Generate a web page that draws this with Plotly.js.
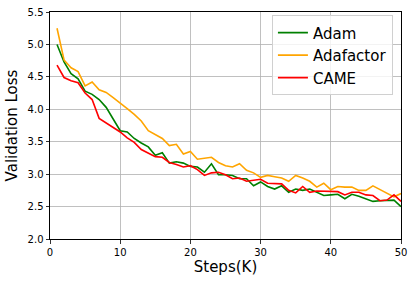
<!DOCTYPE html>
<html>
<head>
<meta charset="utf-8">
<script src="https://cdn.plot.ly/plotly-3.0.1.min.js"></script>
<style>html,body{margin:0;padding:0;background:#fff;}#chart{width:415px;height:283px;}</style>
</head>
<body>
<div id="chart"></div>
<script>
const steps = [1,2,3,4,5,6,7,8,9,10,11,12,13,14,15,16,17,18,19,20,21,22,23,24,25,26,27,28,29,30,31,32,33,34,35,36,37,38,39,40,41,42,43,44,45,46,47,48,49,50];
const adam = [5.00,4.73,4.55,4.47,4.28,4.23,4.15,4.03,3.85,3.67,3.65,3.55,3.48,3.42,3.29,3.33,3.17,3.19,3.17,3.12,3.11,3.03,3.16,2.99,2.99,2.98,2.93,2.93,2.82,2.88,2.81,2.77,2.82,2.72,2.77,2.75,2.77,2.72,2.67,2.68,2.69,2.62,2.69,2.66,2.62,2.58,2.59,2.60,2.60,2.50];
const adafactor = [5.25,4.76,4.64,4.58,4.36,4.42,4.30,4.26,4.18,4.10,4.01,3.92,3.82,3.67,3.61,3.55,3.44,3.46,3.31,3.35,3.23,3.24,3.26,3.18,3.13,3.11,3.16,3.06,3.02,2.95,2.98,2.96,2.94,2.89,2.98,2.94,2.89,2.80,2.86,2.76,2.81,2.80,2.80,2.75,2.75,2.82,2.76,2.70,2.65,2.70];
const came = [4.68,4.49,4.44,4.41,4.25,4.15,3.86,3.79,3.72,3.65,3.56,3.49,3.38,3.32,3.27,3.26,3.18,3.15,3.11,3.13,3.07,2.98,3.02,3.03,2.99,2.93,2.94,2.89,2.91,2.92,2.86,2.85,2.85,2.75,2.71,2.81,2.72,2.74,2.74,2.73,2.73,2.68,2.72,2.72,2.68,2.67,2.59,2.60,2.68,2.58];
const seriesNames = ['Adam','Adafactor','CAME'];
const seriesColors = ['#008000','#FFA500','#FF0000'];
const xTicks = [0,10,20,30,40,50];
const yTicks = [2.0,2.5,3.0,3.5,4.0,4.5,5.0,5.5];

const values = [adam, adafactor, came];
const traces = values.map((v,i)=>({
  x: steps, y: v, type:'scatter', mode:'lines', name: seriesNames[i],
  line:{color: seriesColors[i], width:1.6}
}));

const axisCommon = {
  showline:true, linecolor:'#000', linewidth:1, mirror:true,
  ticks:'outside', ticklen:3.5, tickwidth:0.8, tickcolor:'#000',
  showgrid:true, gridcolor:'#b0b0b0', gridwidth:0.8, zeroline:false,
  tickfont:{family:'DejaVu Sans', size:10, color:'#000'}
};

const layout = {
  width:415, height:283,
  margin:{l:50, r:14, t:12, b:44},
  paper_bgcolor:'#fff', plot_bgcolor:'#fff',
  font:{family:'DejaVu Sans', color:'#000'},
  xaxis: Object.assign({}, axisCommon, {
    range:[0,50], tickvals:xTicks, ticktext:xTicks.map(String),
    title:{text:'Steps(K)', font:{size:15, color:'#000'}, standoff:3}
  }),
  yaxis: Object.assign({}, axisCommon, {
    range:[2.0,5.5], tickvals:yTicks, ticktext:yTicks.map(v=>v.toFixed(1)),
    title:{text:'Validation Loss', font:{size:15, color:'#000'}, standoff:6}
  }),
  showlegend:true,
  legend:{
    x:0.977, xanchor:'right', y:0.985, yanchor:'top',
    bgcolor:'rgba(255,255,255,0.8)', bordercolor:'#d0d0d0', borderwidth:1,
    font:{family:'DejaVu Sans', size:15, color:'#000'},
    tracegroupgap:0, itemwidth:30
  }
};

Plotly.newPlot('chart', traces, layout, {staticPlot:true, displayModeBar:false});
</script>
</body>
</html>
